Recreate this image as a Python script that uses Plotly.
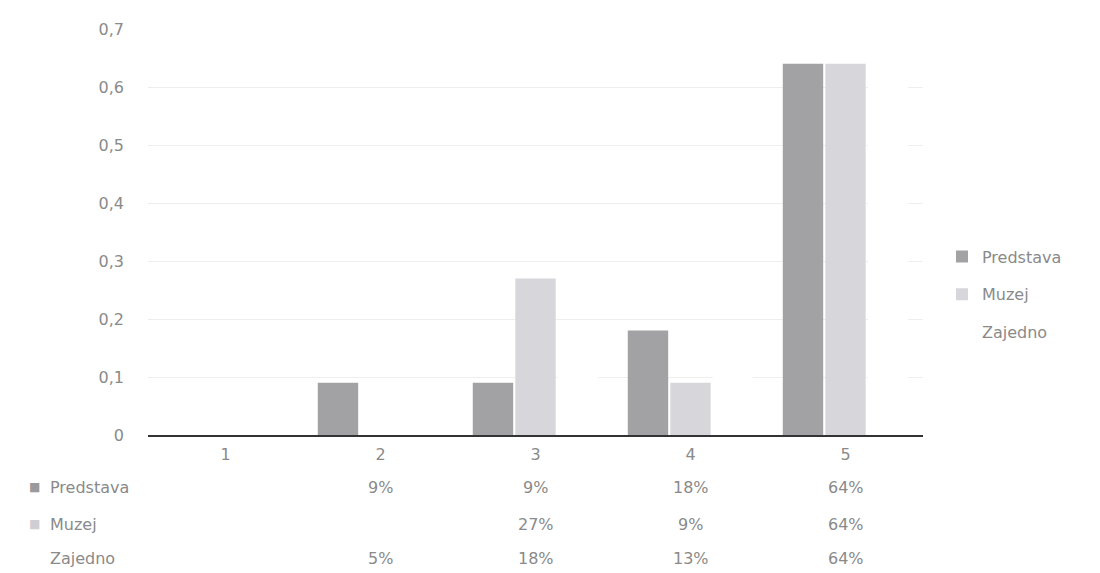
import plotly.graph_objects as go

categories = ["1", "2", "3", "4", "5"]
series_names = ["Predstava", "Muzej", "Zajedno"]
predstava = [0, 0.09, 0.09, 0.18, 0.64]
muzej = [0, 0, 0.27, 0.09, 0.64]
zajedno = [0, 0.05, 0.18, 0.13, 0.64]
y_ticks = [0, 0.1, 0.2, 0.3, 0.4, 0.5, 0.6, 0.7]

values = [predstava, muzej, zajedno]
colors = ["#a2a2a4", "#d7d7db", "#ffffff"]
swatch_colors = ["#9a9a9c", "#cfcfd3", "#ffffff"]
text_color = "#8a8a8a"
font_family = "DejaVu Sans, sans-serif"
fs = 16

fig = go.Figure()
for name, vals, col in zip(series_names, values, colors):
    fig.add_trace(go.Bar(x=categories, y=vals, name=name, legendgroup=name,
                         marker=dict(color=col, line=dict(width=0))))

# data table below the axis
row_y = [-0.129, -0.220, -0.305]
annotations = []
for name, vals, sc, ry in zip(series_names, values, swatch_colors, row_y):
    annotations.append(dict(x=-0.146, y=ry, xref="paper", yref="paper",
                            text="■", showarrow=False,
                            xanchor="center", yanchor="middle",
                            font=dict(size=12, color=sc, family=font_family)))
    annotations.append(dict(x=-0.129, y=ry, xref="paper", yref="paper",
                            text=name, showarrow=False,
                            xanchor="left", yanchor="middle",
                            font=dict(size=fs, color=text_color, family=font_family)))
    for i, v in enumerate(vals):
        if v:
            annotations.append(dict(x=i, y=ry, xref="x", yref="paper",
                                    text=f"{round(v * 100)}%",
                                    showarrow=False, xanchor="center", yanchor="middle",
                                    font=dict(size=fs, color=text_color, family=font_family)))

fig.update_layout(
    width=1092, height=565,
    margin=dict(l=140, r=177, t=17, b=138),
    paper_bgcolor="white", plot_bgcolor="white",
    separators=", ",
    barmode="group", bargap=0.177, bargroupgap=0.05,
    font=dict(family=font_family, color=text_color, size=fs),
    legend=dict(x=1.0245, y=0.346, xanchor="left", yanchor="middle",
                font=dict(size=fs, color=text_color, family=font_family),
                tracegroupgap=14, itemwidth=30),
    annotations=annotations,
)
fig.update_xaxes(type="category", showline=True, linecolor="#333333", linewidth=1.5,
                 ticks="", showgrid=False, ticklabelstandoff=4,
                 tickfont=dict(size=fs, color=text_color))
fig.update_yaxes(range=[0, 0.7], tickvals=y_ticks, showgrid=True, gridcolor="#eeeeee",
                 zeroline=False, ticklabelstandoff=23,
                 tickfont=dict(size=fs, color=text_color))

fig.write_html("out.html")
